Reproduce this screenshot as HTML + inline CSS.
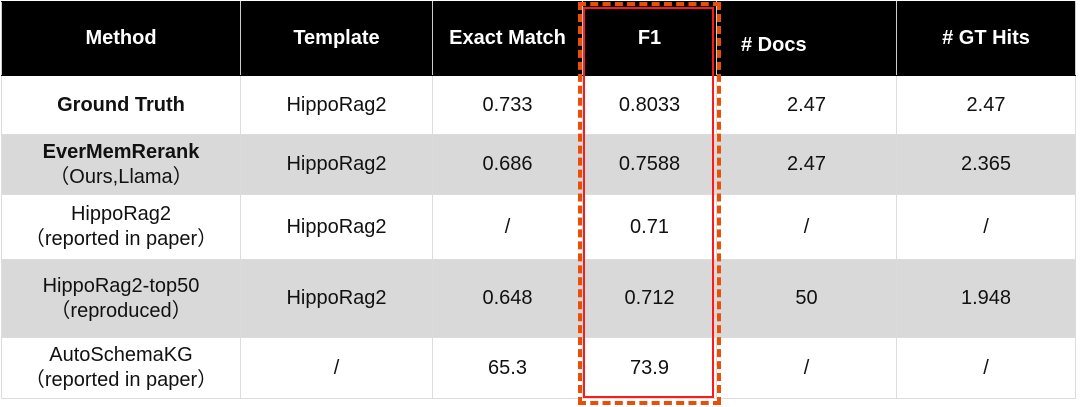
<!DOCTYPE html>
<html><head><meta charset="utf-8"><style>
body{margin:0;width:1080px;height:407px;background:#fff;overflow:hidden;font-family:"Liberation Sans","Noto Sans CJK SC",sans-serif;}
table{position:absolute;left:1px;top:1px;border-collapse:collapse;table-layout:fixed;}
td,th{border:1.5px solid #dcdcdc;text-align:center;padding:0;font-size:20px;color:#111;line-height:25px;}
th{background:#000;color:#fff;font-weight:bold;font-size:20px;border-color:#000 #ccc;}
tr.g td{background:#d9d9d9;}
b{font-weight:bold;}
.box{position:absolute;left:578px;top:2px;width:135px;height:395px;border:4px dashed #e8500a;}
.red{position:absolute;left:583px;top:7px;width:127px;height:387px;border:2px solid #ff1a1a;}
</style></head><body>
<table>
<colgroup><col style="width:239px"><col style="width:192px"><col style="width:150px"><col style="width:134px"><col style="width:180px"><col style="width:179px"></colgroup>
<tr style="height:74px"><th>Method</th><th>Template</th><th>Exact Match</th><th>F1</th><th style="padding-top:14px;text-align:left;padding-left:24px"># Docs</th><th># GT Hits</th></tr>
<tr style="height:59px"><td><b>Ground Truth</b></td><td>HippoRag2</td><td>0.733</td><td>0.8033</td><td>2.47</td><td>2.47</td></tr>
<tr class="g" style="height:60px"><td><b>EverMemRerank</b><br>（Ours,Llama）</td><td>HippoRag2</td><td>0.686</td><td>0.7588</td><td>2.47</td><td>2.365</td></tr>
<tr style="height:65px"><td>HippoRag2<br>（reported in paper）</td><td>HippoRag2</td><td>/</td><td>0.71</td><td>/</td><td>/</td></tr>
<tr class="g" style="height:78px"><td>HippoRag2-top50<br>（reproduced）</td><td>HippoRag2</td><td>0.648</td><td>0.712</td><td>50</td><td>1.948</td></tr>
<tr style="height:61px"><td>AutoSchemaKG<br>（reported in paper）</td><td>/</td><td>65.3</td><td>73.9</td><td>/</td><td>/</td></tr>
</table>
<div class="box"></div><div class="red"></div>
</body></html>
